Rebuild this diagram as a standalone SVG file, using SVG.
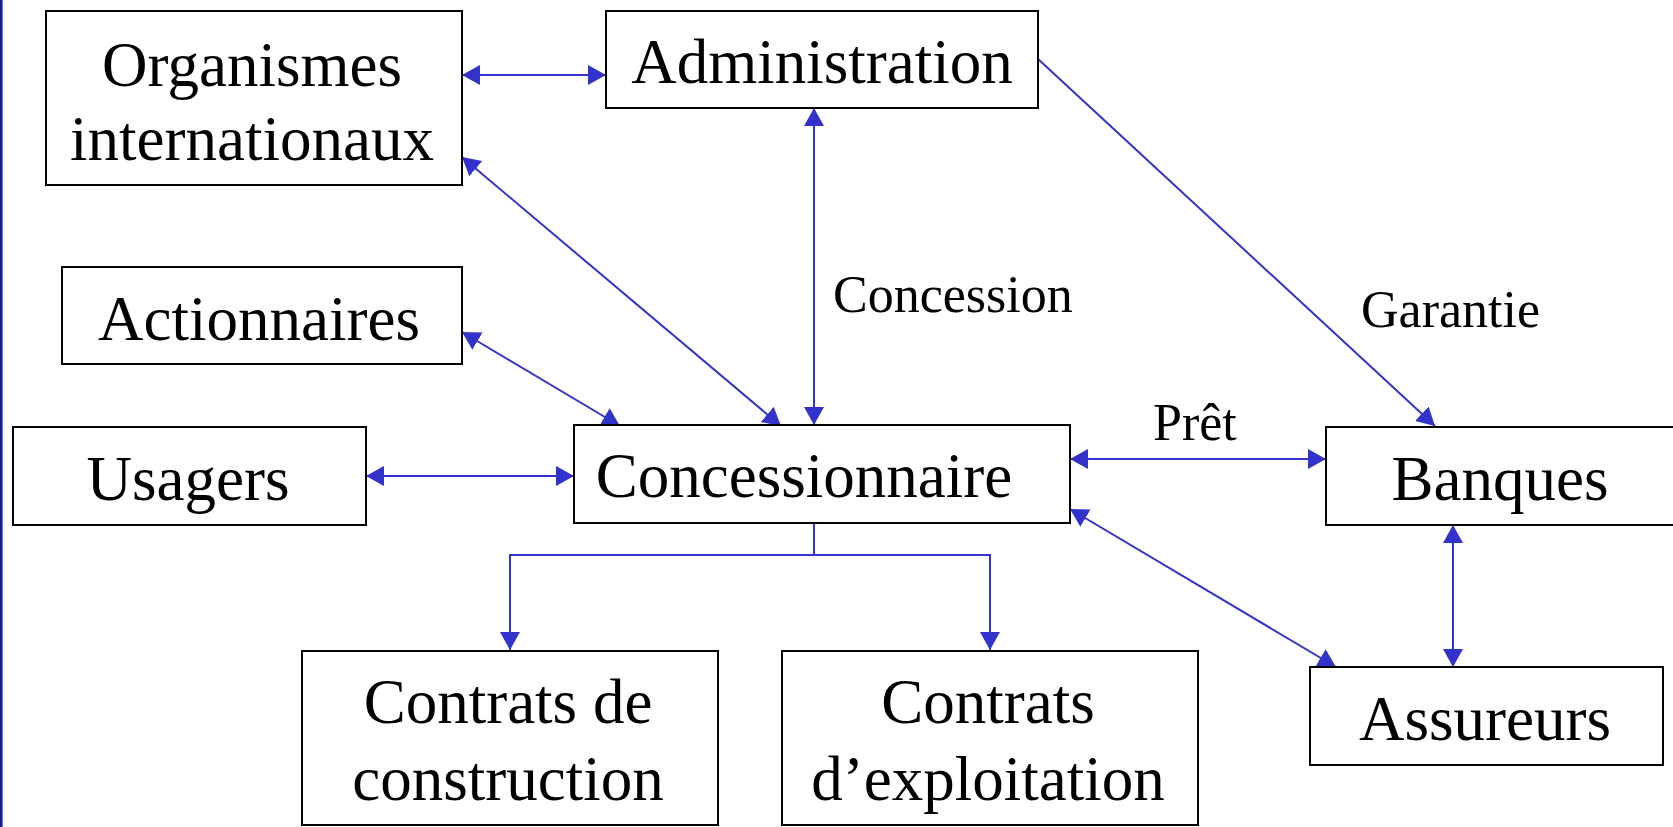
<svg xmlns="http://www.w3.org/2000/svg" width="1673" height="827" viewBox="0 0 1673 827">
<style>
.box{fill:#ffffff;stroke:#000000;stroke-width:2}
.t{font-family:"Liberation Serif","Times New Roman",serif;font-size:63px;fill:#000000;text-anchor:middle}
.lbl{font-family:"Liberation Serif","Times New Roman",serif;font-size:52px;fill:#000000}
.c{fill:none;stroke:#3333cc;stroke-width:2}
</style>
<defs>
<marker id="ah" markerUnits="userSpaceOnUse" markerWidth="20" markerHeight="22" refX="18" refY="10" orient="auto-start-reverse" viewBox="0 0 20 22">
<path d="M0,0 L18,10 L0,20 z" fill="#3333cc"/>
</marker>
</defs>
<rect x="0" y="0" width="1673" height="827" fill="#ffffff"/>
<line x1="1.3" y1="0" x2="1.3" y2="827" stroke="#1c1c99" stroke-width="2.6"/>

<g id="connectors">
<line class="c" x1="462" y1="75" x2="606" y2="75" marker-start="url(#ah)" marker-end="url(#ah)"/>
<line class="c" x1="462" y1="157" x2="781" y2="426" marker-start="url(#ah)" marker-end="url(#ah)"/>
<line class="c" x1="814" y1="108" x2="814" y2="425" marker-start="url(#ah)" marker-end="url(#ah)"/>
<line class="c" x1="462" y1="332" x2="620" y2="426" marker-start="url(#ah)" marker-end="url(#ah)"/>
<line class="c" x1="366" y1="476" x2="574" y2="476" marker-start="url(#ah)" marker-end="url(#ah)"/>
<line class="c" x1="1070" y1="459" x2="1326" y2="459" marker-start="url(#ah)" marker-end="url(#ah)"/>
<line class="c" x1="1038" y1="59" x2="1435" y2="426" marker-end="url(#ah)"/>
<line class="c" x1="1070" y1="509" x2="1336" y2="667" marker-start="url(#ah)" marker-end="url(#ah)"/>
<line class="c" x1="1453" y1="525" x2="1453" y2="667" marker-start="url(#ah)" marker-end="url(#ah)"/>
<polyline class="c" points="814,523 814,555 510,555 510,650" marker-end="url(#ah)"/>
<polyline class="c" points="814,555 990,555 990,650" marker-end="url(#ah)"/>
<text class="lbl" x="833" y="312">Concession</text>
<text class="lbl" x="1153" y="440">Prêt</text>
<text class="lbl" x="1361" y="327">Garantie</text>
</g>

<g id="organismes">
<rect class="box" x="46" y="11" width="416" height="174"/>
<text class="t" x="252" y="86">Organismes</text>
<text class="t" x="252" y="160">internationaux</text>
</g>
<g id="administration">
<rect class="box" x="606" y="11" width="432" height="97"/>
<text class="t" x="822" y="83">Administration</text>
</g>
<g id="actionnaires">
<rect class="box" x="62" y="267" width="400" height="97"/>
<text class="t" x="259" y="340">Actionnaires</text>
</g>
<g id="usagers">
<rect class="box" x="13" y="427" width="353" height="98"/>
<text class="t" x="188" y="500">Usagers</text>
</g>
<g id="concessionnaire">
<rect class="box" x="574" y="425" width="496" height="98"/>
<text class="t" x="804" y="497">Concessionnaire</text>
</g>
<g id="banques">
<rect class="box" x="1326" y="427" width="350" height="98"/>
<text class="t" x="1500" y="500">Banques</text>
</g>
<g id="assureurs">
<rect class="box" x="1310" y="667" width="353" height="98"/>
<text class="t" x="1485" y="740">Assureurs</text>
</g>
<g id="contrats-construction">
<rect class="box" x="302" y="651" width="416" height="174"/>
<text class="t" x="508" y="723">Contrats de</text>
<text class="t" x="508" y="800">construction</text>
</g>
<g id="contrats-exploitation">
<rect class="box" x="782" y="651" width="416" height="174"/>
<text class="t" x="988" y="723">Contrats</text>
<text class="t" x="988" y="800">d’exploitation</text>
</g>
</svg>
